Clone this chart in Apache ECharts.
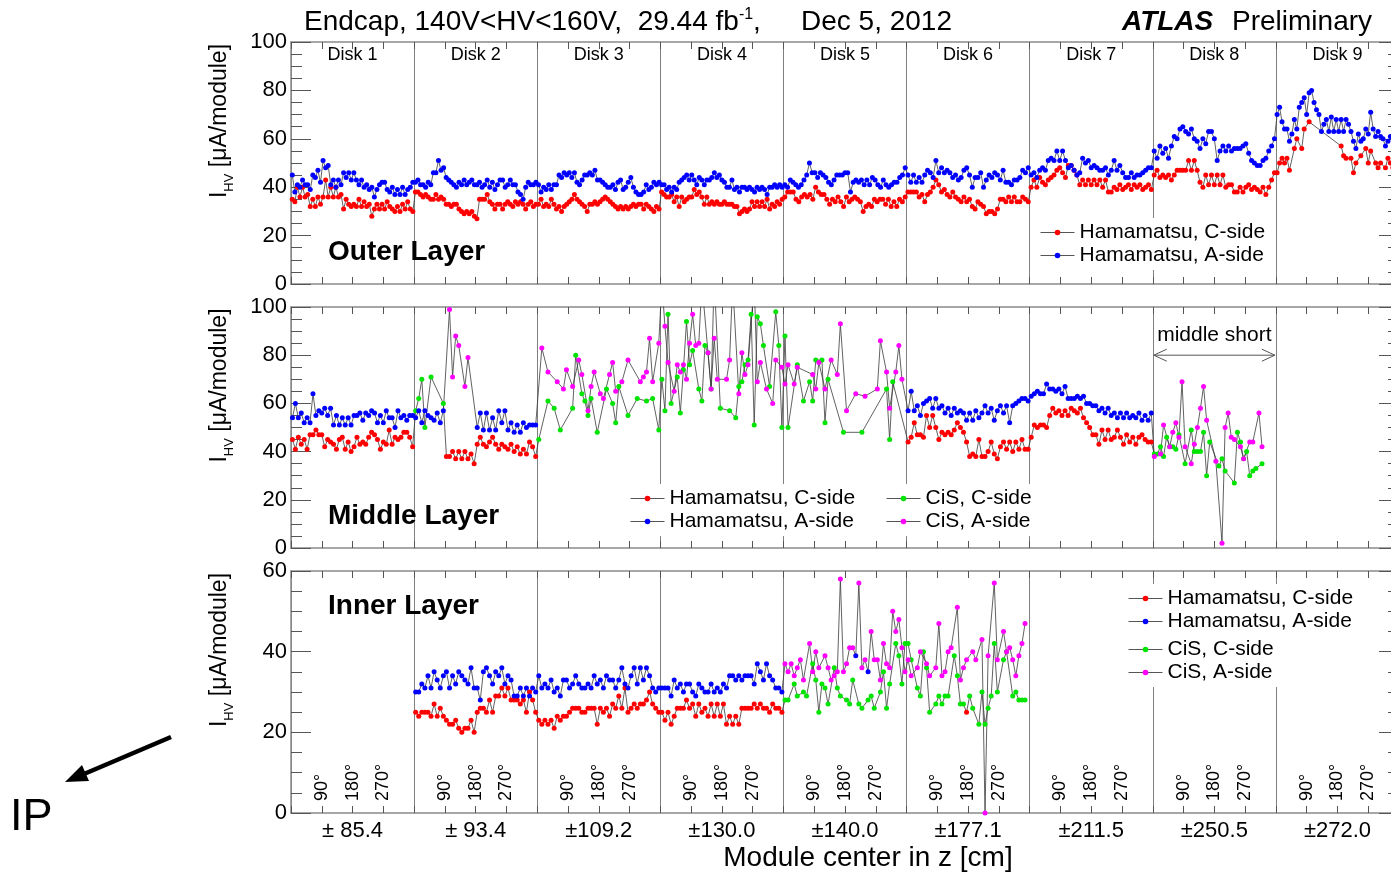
<!DOCTYPE html>
<html><head><meta charset="utf-8">
<script src="https://cdn.jsdelivr.net/npm/echarts@6/dist/echarts.min.js"></script>
<style>html,body{margin:0;padding:0;background:#fff}#c{width:1391px;height:873px}</style>
</head><body><div id="c"></div>
<script>
const FONT = "'Liberation Sans', Arial, Helvetica, sans-serif";
const diskNames = ['Disk 1','Disk 2','Disk 3','Disk 4','Disk 5','Disk 6','Disk 7','Disk 8','Disk 9'];
const zLabels = ['± 85.4','± 93.4','±109.2','±130.0','±140.0','±177.1','±211.5','±250.5','±272.0'];
const angleLabels = ['90°','180°','270°'];
const outerTicks = [0,20,40,60,80,100];
const innerTicks = [0,20,40,60];

// ---------- Outer layer (all Hamamatsu) ----------
const outerC = [
 [35,34,40,36,40,36,37,32,35,32,36,33,36,43,36,40,36,40,36,37,31,35,33,32,33,32,35,32,34,32,33,28,31,33,31,33,31,34,32,31,30,32,30,33,31,34,31,30],
 [38,38,37,36,37,36,35,35,37,35,36,35,33,33,32,33,33,31,30,29,30,29,30,28,27,35,35,35,37,34,33,31,33,33,31,33,34,33,32,34,33,34,33,31,33,34,32,33],
 [33,35,32,33,32,35,33,31,32,30,32,33,34,35,37,35,34,33,32,30,33,33,34,33,34,35,36,35,34,33,32,31,32,31,32,31,32,33,32,33,33,31,33,32,31,30,32,31],
 [38,37,36,36,37,34,36,32,36,34,35,36,36,39,37,38,36,33,36,33,34,33,34,33,33,34,33,33,33,32,32,29,30,31,30,31,34,32,34,32,34,32,35,31,33,32,34,33,35],
 [36,38,38,38,35,34,36,37,36,37,35,40,38,37,37,35,33,35,34,36,34,32,36,34,35,36,35,34,30,32,33,32,35,34,35,35,33,35,32,34,32,35,34,36],
 [38,38,38,38,36,37,34,37,38,40,43,41,38,39,37,36,38,36,35,34,36,34,35,32,31,34,33,32,29,30,30,29,31,35,35,34,36,34,36,34,34,36,35,34],
 [40,43,40,44,42,41,43,44,45,47,48,46,44,49,49,47,45,41,43,41,43,41,43,41,43,40,43,38,38,40,39,41,39,40,41,39,41,40,41,39,40,41,39],
 [45,47,44,45,44,45,43,45,47,47,47,47,51,47,51,47,42,40,45,41,45,41,45,41,45,40,41,41,38,38,40,38,40,41,39,40,39,38,40,37,40,43,46],
 [46,50,52,50,52,47,null,56,60,null,56,64,null,67,null,null,null,null,null,null,null,null,null,null,null,null,57,53,52,null,52,46,50,null,53,null,56,50,55,null,50,48,50,null,48,52,50,48,47,49]
];
const outerA = [
 [45,38,41,40,43,41,41,39,45,44,47,42,51,48,49,41,43,40,43,41,46,44,46,43,46,43,41,43,40,41,39,40,36,39,41,42,42,39,38,40,37,39,37,40,37,39,40,42],
 [42,43,41,41,40,42,41,46,46,51,47,48,44,43,42,41,40,42,41,43,41,42,43,41,41,42,40,41,43,40,42,39,41,43,43,40,41,43,41,41,38,37,35,40,42,41,41,42],
 [41,38,40,39,41,39,41,41,45,44,46,45,46,44,46,42,41,43,45,45,46,45,47,43,43,42,41,40,40,41,39,42,43,39,40,42,44,40,38,37,37,38,41,39,40,42,41,42],
 [41,41,39,40,38,40,39,42,43,44,45,43,45,43,41,44,43,41,43,43,44,46,44,45,43,42,40,40,43,39,40,38,40,40,39,40,39,38,40,39,40,39,37,40,40,41,40,41,40],
 [41,40,43,42,41,40,41,43,45,50,46,46,44,46,45,44,42,41,43,45,45,45,46,46,38,42,43,42,43,41,43,41,44,43,41,40,43,41,40,41,42,42,44,45,48],
 [45,42,45,42,44,42,45,47,46,44,51,46,48,46,47,46,44,45,43,44,47,48,45,40,44,44,46,40,43,45,44,46,45,43,47,42,42,41,43,43,44,47,46,48],
 [45,46,44,47,48,47,51,52,51,55,51,55,51,48,49,47,45,46,52,50,51,48,49,48,47,47,48,45,47,51,47,49,46,44,44,46,44,45,45,46,47,48,48],
 [55,52,57,54,56,52,57,61,60,64,65,63,62,64,60,59,56,60,58,63,63,60,51,55,57,55,57,55,56,56,56,57,58,54,51,50,49,49,51,52,55,57,60],
 [70,73,67,64,64,59,62,68,64,73,75,77,70,79,80,75,72,70,63,66,68,63,69,63,68,63,68,63,68,66,63,59,56,62,59,60,64,62,71,64,61,63,61,60,57,59,61,60,58,60]
];
const outerVendorC = ['H','H','H','H','H','H','H','H','H'];
const outerVendorA = ['H','H','H','H','H','H','H','H','H'];

// ---------- Middle layer ----------
const midC = [
 [45,41,46,43,45,41,47,47,49,47,47,42,45,44,43,41,45,46,41,44,40,42,46,43,44,43,46,48,47,45,41,44,43,49,43,46,45,46,48,48,46,42],
 [57,62,70,50,null,71,null,null,null,60,38,38,40,37,40,37,40,37,39,35,43,46,43,42,44,46,43,41,43,42,41,43,40,42,39,41,39,44,42,38],
 [45,null,null,61,null,58,null,49,null,null,null,58,80,null,64,61,55,62,null,48,null,null,66,null,60,52,67,null,null,55,null,null,62,null,null,61,null,62,null,49],
 [70,57,97,60,null,71,56,74,94,76,82,null,66,61,84,81,66,112,null,58,null,null,57,null,54,67,69,76,78,97,51,96,93,84,null,67,null,98,84,50],
 [88,50,null,null,76,null,61,null,69,61,78,null,78,52,70,null,null,null,null,48,null,null,null,null,null,48,null,null,null,null,null,null,null,66,45,69,null,null,null,null],
 [44,46,52,47,47,46,55,50,55,50,45,48,47,48,47,49,52,50,48,44,38,39,38,45,38,38,40,44,39,37,42,44,41,44,40,44,41,45,41,41],
 [46,51,50,51,51,50,55,58,56,57,55,57,55,58,57,56,58,54,52,50,47,47,43,49,45,49,45,46,49,46,43,47,44,46,43,46,47,45,44,44],
 [39,39,42,38,46,42,42,41,47,null,35,null,49,40,40,40,48,30,44,null,null,34,37,32,null,null,27,48,44,37,40,30,32,33,null,35,null,null,null,null],
 []
];
const midA = [
 [54,60,54,56,52,54,52,64,55,57,56,58,55,58,51,55,51,54,51,54,51,55,55,56,53,56,55,57,56,52,55,52,57,54,54,50,57,54,55,53,55,55],
 [54,57,52,57,55,54,53,56,52,57,null,99,71,88,84,null,67,79,null,null,50,56,49,56,49,54,49,57,52,57,49,52,48,51,48,52,50,51,51,51],
 [null,83,null,73,null,null,69,null,66,74,null,67,null,78,72,null,57,67,73,null,64,62,null,72,77,65,null,69,null,78,null,null,null,69,71,73,87,69,null,85],
 [110,92,77,null,65,76,73,76,70,85,97,84,85,110,null,81,66,87,70,null,null,70,78,110,null,64,81,72,76,null,110,69,77,null,66,null,60,78,null,75],
 [68,76,null,68,75,null,null,null,null,72,66,77,null,66,null,78,null,72,93,null,57,null,null,64,null,null,63,null,null,null,66,86,null,73,58,null,73,84,70,null],
 [57,65,57,59,55,60,61,62,58,62,58,59,56,58,55,58,56,57,56,53,56,53,57,54,56,59,56,58,53,57,59,56,59,52,59,60,61,62,62,61],
 [63,64,65,64,64,68,66,66,65,66,64,67,62,62,62,63,62,63,60,60,59,59,57,58,56,58,55,56,54,56,54,56,54,55,54,56,53,55,53,56],
 [38,null,39,51,null,42,48,52,46,69,42,null,35,43,50,58,67,53,null,null,36,null,2,50,56,46,45,null,42,37,null,44,44,null,56,42,null,null,null,null],
 []
];
const midVendorC = ['H','CCCCCCCCCCHHHHHHHHHHHHHHHHHHHHHHHHHHHHHH','C','C','C','H','H','C','C'];
const midVendorA = ['H','HHHHHHHHHHCCCCCCCCCCHHHHHHHHHHHHHHHHHHHH','C','C','C','H','H','C','C'];

// ---------- Inner layer ----------
const innerC = [
 [],
 [25,24,25,25,25,24,27,24,26,24,23,22,22,23,21,20,21,21,23,20,25,26,26,25,28,25,29,29,31,29,31,28,28,28,27,28,25,30,28,25],
 [23,22,23,22,23,21,24,23,24,24,25,26,26,26,25,25,26,26,26,22,26,25,26,24,27,26,29,26,31,25,26,27,26,27,27,28,30,27,26,25],
 [25,23,25,22,24,26,26,26,28,26,27,24,27,25,26,24,27,24,27,24,27,22,24,22,24,22,26,26,26,26,27,26,27,26,26,25,27,26,26,25],
 [28,28,null,32,29,null,30,29,null,37,33,25,32,31,27,null,36,31,29,null,28,27,33,null,27,26,null,28,29,26,null,30,35,26,32,null,42,39,32,42],
 [42,38,null,31,29,40,36,25,null,27,29,27,29,29,null,39,34,27,27,25,29,26,null,22,30,22,26,29,42,30,null,38,40,null,29,30,28,28,28,null],
 [],[],[]
];
const innerA = [
 [],
 [30,30,32,31,34,31,35,33,31,34,35,31,34,32,35,34,33,32,36,31,31,28,35,36,34,32,35,34,36,32,34,33,29,29,31,29,31,29,31,30],
 [34,31,32,31,33,30,31,29,33,33,31,32,34,32,31,31,32,31,34,32,33,31,34,33,33,31,33,36,32,31,34,36,32,36,33,36,34,31,30,31],
 [31,31,31,29,33,31,32,30,32,32,30,29,32,31,30,30,32,30,31,30,32,31,34,34,33,34,33,34,34,34,32,37,35,33,37,34,33,31,31,30],
 [37,35,37,34,36,38,33,null,42,35,40,36,null,39,36,33,34,35,58,35,37,41,41,39,57,36,38,35,45,38,38,33,42,37,36,50,45,48,41,35],
 [38,34,null,36,40,null,37,34,null,36,47,34,35,40,41,null,51,33,36,38,null,40,38,null,43,0,39,null,57,38,null,45,40,41,38,34,39,42,47,null],
 [],[],[]
];
const innerVendorC = ['H','H','H','H','C','CCCCCCCCCCCCCCCCCCCHCCCCCCCCCCCCCCCCCCCC','C','C','C'];
const innerVendorA = ['H','H','H','H','CCCCCCCCCCCCCCCCCCCCCCCHCCCHCCCCCCCCCCCC','C','C','C','C'];

const NAMES = {HC:'Hamamatsu, C-side', HA:'Hamamatsu, A-side', CC:'CiS, C-side', CA:'CiS, A-side'};
const COLORS = {HC:'#ff0000', HA:'#0000ff', CC:'#00e400', CA:'#ff00ff'};

function build(vals, vend) {
  const conn = [], ham = [], cis = [];
  vals.forEach((disk, d) => {
    const n = disk.length;
    disk.forEach((v, j) => {
      if (v === null || v === undefined) return;
      const x = d + (j + 0.5) / n;
      conn.push([x, v]);
      const code = vend[d].length === 1 ? vend[d] : vend[d][j];
      (code === 'H' ? ham : cis).push([x, v]);
    });
  });
  return {conn, ham, cis};
}

const axisGray = '#8a8a8a', tickGray = '#555';
function mainX(gi) {
  return {type:'value', gridIndex:gi, position:'bottom', min:0, max:9, interval:1,
    axisLine:{show:true, onZero:false, lineStyle:{color:axisGray, width:1.5}},
    axisTick:{show:true, inside:true, length:7, lineStyle:{color:tickGray}},
    minorTick:{show:true, splitNumber:4, length:7, lineStyle:{color:tickGray}},
    splitLine:{show:true, lineStyle:{color:'#808080', width:1}},
    axisLabel:{show:false}};
}
function topX(gi) {
  return {type:'value', gridIndex:gi, position:'top', min:0, max:9, interval:1,
    axisLine:{show:true, onZero:false, lineStyle:{color:axisGray, width:1.5}},
    axisTick:{show:true, inside:true, length:7, lineStyle:{color:tickGray}},
    minorTick:{show:true, splitNumber:4, length:7, lineStyle:{color:tickGray}},
    splitLine:{show:false}, axisLabel:{show:false}};
}
const yNameRich = {
  i:{fontSize:23, fontFamily:FONT, color:'#000', lineHeight:32, verticalAlign:'middle'},
  s:{fontSize:13, fontFamily:FONT, color:'#000', lineHeight:12, verticalAlign:'bottom'},
  t:{fontSize:23, fontFamily:FONT, color:'#000', lineHeight:32, verticalAlign:'middle'}
};
function leftY(gi, ticks) {
  return {type:'value', gridIndex:gi, position:'left', min:ticks[0], max:ticks[ticks.length-1], interval:ticks[1]-ticks[0],
    axisLine:{show:true, onZero:false, lineStyle:{color:axisGray, width:1.5}},
    axisTick:{show:true, inside:true, length:20, lineStyle:{color:tickGray}},
    minorTick:{show:true, splitNumber:4, length:11, lineStyle:{color:tickGray}},
    splitLine:{show:false},
    axisLabel:{fontSize:22, fontFamily:FONT, color:'#000', margin:4},
    name:'{i|I}{s|HV}{t| [μA/module]}', nameLocation:'middle', nameRotate:90, nameGap:55,
    nameTextStyle:{rich:yNameRich, padding:[0,0,0,84]}};
}
function rightY(gi, ticks) {
  return {type:'value', gridIndex:gi, position:'right', min:ticks[0], max:ticks[ticks.length-1], interval:ticks[1]-ticks[0],
    axisLine:{show:true, onZero:false, lineStyle:{color:axisGray, width:1.5}},
    axisTick:{show:true, inside:true, length:20, lineStyle:{color:tickGray}},
    minorTick:{show:true, splitNumber:4, length:11, lineStyle:{color:tickGray}},
    splitLine:{show:false}, axisLabel:{show:false}};
}

const xAxis = [
  mainX(0), topX(0),
  {type:'category', gridIndex:0, position:'top', data:diskNames, boundaryGap:true,
   axisLine:{show:false}, axisTick:{show:false}, splitLine:{show:false},
   axisLabel:{inside:true, interval:0, margin:4, fontSize:18, fontFamily:FONT, color:'#000'}},
  mainX(1), topX(1),
  mainX(2), topX(2),
  {type:'value', gridIndex:2, position:'bottom', min:0, max:9, interval:0.25,
   axisLine:{show:false}, axisTick:{show:false}, splitLine:{show:false},
   axisLabel:{inside:true, rotate:90, margin:12, fontSize:18, fontFamily:FONT, color:'#000',
     formatter: v => { const f = Math.round((v - Math.floor(v + 1e-6)) * 4); return f === 0 ? '' : angleLabels[f-1]; }}},
  {type:'category', gridIndex:2, position:'bottom', data:zLabels, boundaryGap:true,
   axisLine:{show:false}, axisTick:{show:false}, splitLine:{show:false},
   axisLabel:{interval:0, margin:7, fontSize:22, fontFamily:FONT, color:'#000'}}
];
const yAxis = [leftY(0, outerTicks), rightY(0, outerTicks), leftY(1, outerTicks), rightY(1, outerTicks), leftY(2, innerTicks), rightY(2, innerTicks)];

const layers = [
  {xi:0, yi:0, C:outerC, A:outerA, vC:outerVendorC, vA:outerVendorA},
  {xi:3, yi:2, C:midC, A:midA, vC:midVendorC, vA:midVendorA},
  {xi:5, yi:4, C:innerC, A:innerA, vC:innerVendorC, vA:innerVendorA}
];
const series = [];
layers.forEach(L => {
  [['C', L.C, L.vC], ['A', L.A, L.vA]].forEach(([side, vals, vend]) => {
    const b = build(vals, vend);
    series.push({type:'line', xAxisIndex:L.xi, yAxisIndex:L.yi, data:b.conn, symbol:'none',
      lineStyle:{color:'#3a3a3a', width:0.8}, z:2, silent:true, animation:false});
    [['H'+side, b.ham], ['C'+side, b.cis]].forEach(([key, pts]) => {
      if (!pts.length) return;
      series.push({type:'line', name:NAMES[key], xAxisIndex:L.xi, yAxisIndex:L.yi, data:pts,
        symbol:'circle', symbolSize:5, showSymbol:true, showAllSymbol:true,
        lineStyle:{opacity:0, width:0}, itemStyle:{color:COLORS[key]}, z:3, silent:true, animation:false});
    });
  });
});

const legendCommon = {orient:'vertical', itemWidth:34, itemHeight:7, itemGap:2, padding:[4,6,4,6],
  backgroundColor:'#ffffff', selectedMode:false,
  textStyle:{fontSize:21, fontFamily:FONT, color:'#000'},
  lineStyle:{color:'#555', width:1, opacity:1, type:'solid'}};
const legend = [
  Object.assign({}, legendCommon, {left:1034, top:218, data:[NAMES.HC, NAMES.HA]}),
  Object.assign({}, legendCommon, {left:624, top:484, data:[NAMES.HC, NAMES.HA]}),
  Object.assign({}, legendCommon, {left:880, top:484, data:[NAMES.CC, NAMES.CA]}),
  Object.assign({}, legendCommon, {left:1122, top:584, data:[NAMES.HC, NAMES.HA]}),
  Object.assign({}, legendCommon, {left:1122, top:635, data:[NAMES.CC, NAMES.CA]})
];

const gridBase = {left:291, width:1108, outerBoundsMode:'none', containLabel:false};
const chart = echarts.init(document.getElementById('c'), null, {renderer:'canvas'});
chart.setOption({
  animation:false,
  backgroundColor:'#ffffff',
  grid:[Object.assign({top:42, height:242}, gridBase), Object.assign({top:307, height:241}, gridBase), Object.assign({top:571, height:242}, gridBase)],
  xAxis, yAxis, series, legend
});

// annotations
const x7 = chart.convertToPixel({xAxisIndex:3}, 7);
const x8 = chart.convertToPixel({xAxisIndex:3}, 8);
const yArr = chart.convertToPixel({yAxisIndex:2}, 80);
const yTxt = chart.convertToPixel({yAxisIndex:2}, 88.5);
const txt = (x, y, text, extra) => ({type:'text', x, y, silent:true,
  style:Object.assign({text, fill:'#000', fontFamily:FONT, fontSize:28, textAlign:'left', textVerticalAlign:'middle'}, extra || {})});
chart.setOption({graphic:[
  txt(304, 22, '{n|Endcap, 140V<HV<160V,  29.44 fb}{s|-1}{n|,}', {rich:{
    n:{fontSize:28, fontFamily:FONT, lineHeight:30, verticalAlign:'middle', fill:'#000'},
    s:{fontSize:16, fontFamily:FONT, lineHeight:15, verticalAlign:'top', fill:'#000'}}}),
  txt(801, 22, 'Dec 5, 2012'),
  txt(1122, 22, 'ATLAS', {fontWeight:'bold', fontStyle:'italic'}),
  txt(1232, 22, 'Preliminary'),
  txt(328, 252, 'Outer Layer', {fontWeight:'bold', fontSize:28}),
  txt(328, 516, 'Middle Layer', {fontWeight:'bold', fontSize:28}),
  txt(328, 606, 'Inner Layer', {fontWeight:'bold', fontSize:28}),
  txt(868, 858, 'Module center in z [cm]', {textAlign:'center'}),
  txt((x7 + x8) / 2, yTxt, 'middle short', {textAlign:'center', fontSize:21}),
  {type:'line', silent:true, shape:{x1:x7 + 1, y1:yArr, x2:x8 - 1, y2:yArr}, style:{stroke:'#555', lineWidth:1}},
  {type:'polyline', silent:true, shape:{points:[[x7 + 14, yArr - 6], [x7 + 1, yArr], [x7 + 14, yArr + 6]]}, style:{stroke:'#555', lineWidth:1, fill:null}},
  {type:'polyline', silent:true, shape:{points:[[x8 - 14, yArr - 6], [x8 - 1, yArr], [x8 - 14, yArr + 6]]}, style:{stroke:'#555', lineWidth:1, fill:null}},
  {type:'line', silent:true, shape:{x1:171, y1:737, x2:84, y2:774}, style:{stroke:'#000', lineWidth:4.5}},
  {type:'polygon', silent:true, shape:{points:[[65, 782], [89, 781], [82, 765]]}, style:{fill:'#000'}},
  txt(10, 818, 'IP', {fontSize:45})
]});
</script></body></html>
